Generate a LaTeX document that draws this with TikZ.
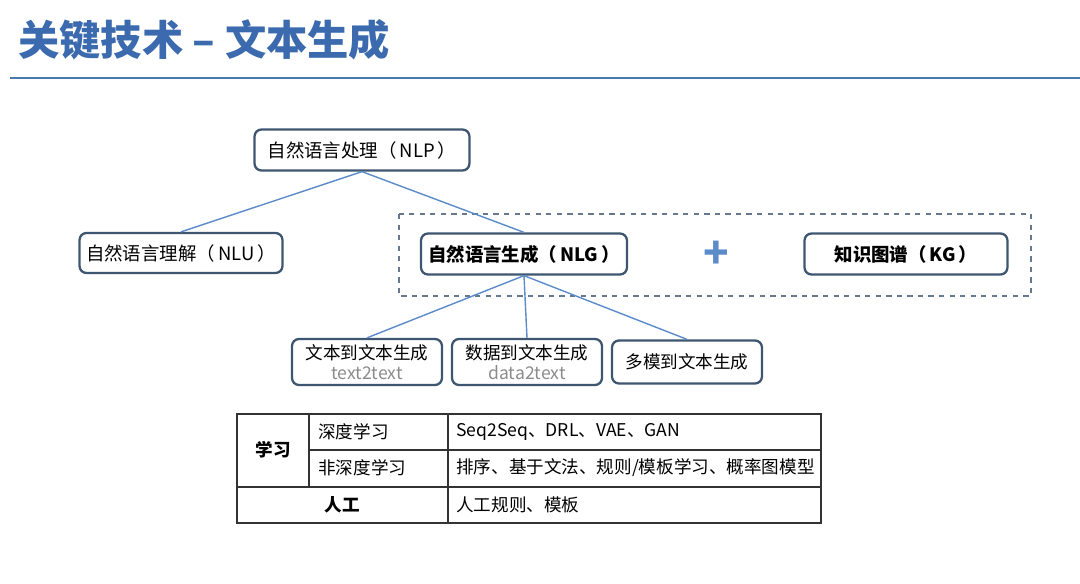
\documentclass[tikz,border=0pt]{standalone}
\usepackage{fontspec}
\setmainfont{Noto Sans CJK SC}
\usetikzlibrary{positioning}
\definecolor{titleblue}{HTML}{3B6BAE}
\definecolor{rulecolor}{HTML}{4A79B0}
\definecolor{boxline}{HTML}{3F5670}
\definecolor{linkcolor}{HTML}{5B8BC9}
\definecolor{subgray}{HTML}{8C8C8C}
\definecolor{gridcolor}{HTML}{333333}

\begin{document}
\begin{tikzpicture}[
    x=0.02cm, y=-0.02cm,
    every node/.style={font=\fontsize{10.5}{12}\selectfont, inner sep=0pt},
    box/.style={draw=boxline, line width=1.3pt, rounded corners=0.14cm, fill=white,
        align=center, minimum height=0.82cm},
    strong/.style={font=\fontsize{10.5}{12}\selectfont\bfseries},
    sub/.style={font=\fontsize{10}{11.5}\selectfont},
    link/.style={draw=linkcolor, line width=0.8pt},
    cell/.style={font=\fontsize{10}{12}\selectfont},
]
\useasboundingbox (0,0) rectangle (1080,584);

% ---------------- title and rule
\node[anchor=west, text=titleblue, font=\fontsize{23.5}{26}\selectfont\bfseries] (title) at (18,40) {关键技术 – 文本生成};
\draw[rulecolor, line width=1.7pt] (10,78) -- (1080,78);

% ---------------- upper tree
\draw[boxline!80, dashed, line width=0.7pt] (399,214) rectangle (1031,296);
\node[box, minimum width=4.3cm] (nlp) at (362,150) {自然语言处理（\,NLP\,）};
\node[box, minimum width=4.06cm, minimum height=0.8cm] (nlu) at (181,253) {自然语言理解（\,NLU\,）};
\node[box, strong, minimum width=4.12cm] (nlg) at (524,254) {自然语言生成（\,NLG\,）};
\node[text=linkcolor, font=\fontsize{24}{24}\selectfont\bfseries] (plus) at (716,255) {+};
\node[box, strong, minimum width=4.06cm] (kg) at (906,254) {知识图谱（\,KG\,）};

\draw[link] (nlp.south) -- (nlu.north);
\draw[link] (nlp.south) -- (nlg.north);

% ---------------- three kinds of generation
\node[box, sub, minimum width=3cm, minimum height=0.92cm] (t2t) at (367,362) {文本到文本生成\\{\color{subgray}text2text}};
\node[box, sub, minimum width=3cm, minimum height=0.92cm] (d2t) at (527,362) {数据到文本生成\\{\color{subgray}data2text}};
\node[box, sub, minimum width=3cm, minimum height=0.86cm] (m2t) at (687,362) {多模到文本生成};

\foreach \k in {t2t, d2t, m2t}{
    \draw[link] (nlg.south) -- (\k.north);
}

% ---------------- method table
\draw[gridcolor, line width=0.8pt] (237,414) rectangle (821,523);
\draw[gridcolor, line width=0.8pt] (309,450) -- (821,450);
\draw[gridcolor, line width=0.8pt] (237,487) -- (821,487);
\draw[gridcolor, line width=0.8pt] (309,414) -- (309,487);
\draw[gridcolor, line width=0.8pt] (448,414) -- (448,523);

\node[cell, font=\fontsize{10}{12}\selectfont\bfseries] (learn) at (273,450) {学习};
\node[cell, anchor=west] (deep) at (318,432) {深度学习};
\node[cell, anchor=west] (nodeep) at (318,468) {非深度学习};
\node[cell, font=\fontsize{10}{12}\selectfont\bfseries] (manual) at (342,505) {人工};
\node[cell, anchor=west] (deepval) at (456,432) {Seq2Seq、DRL、VAE、GAN};
\node[cell, anchor=west] (nodeepval) at (456,468) {排序、基于文法、规则/模板学习、概率图模型};
\node[cell, anchor=west] (manualval) at (456,505) {人工规则、模板};
\end{tikzpicture}
\end{document}
